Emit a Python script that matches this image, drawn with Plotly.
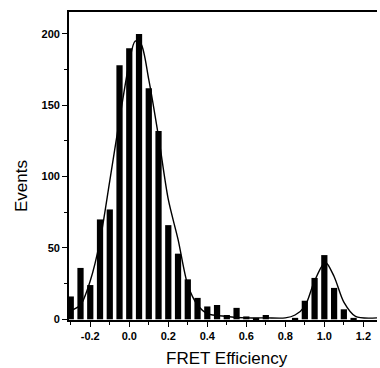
import plotly.graph_objects as go

# Histogram bins (FRET efficiency bin centres) and event counts
bin_centers = [-0.30, -0.25, -0.20, -0.15, -0.10, -0.05, 0.00, 0.05, 0.10, 0.15,
               0.20, 0.25, 0.30, 0.35, 0.40, 0.45, 0.50, 0.55, 0.60, 0.65,
               0.70, 0.75, 0.80, 0.85, 0.90, 0.95, 1.00, 1.05, 1.10, 1.15]
counts = [16, 36, 24, 70, 77, 178, 190, 200, 162, 132,
          66, 46, 28, 15, 9, 10, 3, 8, 2, 1,
          3, 0, 0, 1, 13, 29, 45, 22, 7, 1]

# Fit curve
fit_x = [-0.30, -0.25, -0.20, -0.15, -0.10, -0.05, 0.00, 0.03, 0.06, 0.10,
         0.15, 0.20, 0.25, 0.30, 0.35, 0.40, 0.50, 0.60, 0.70, 0.80,
         0.85, 0.90, 0.95, 1.005, 1.05, 1.10, 1.16, 1.27]
fit_y = [6, 10, 27, 55, 97, 140, 180, 195, 193, 168,
         128, 84, 56, 24, 10, 4, 2, 1, 1, 1,
         3, 9, 27, 40, 30, 12, 2, 1]

x_tickvals = [-0.2, 0.0, 0.2, 0.4, 0.6, 0.8, 1.0, 1.2]
x_ticktext = ["-0.2", "0.0", "0.2", "0.4", "0.6", "0.8", "1.0", "1.2"]
y_tickvals = [0, 50, 100, 150, 200]

fig = go.Figure()
fig.add_trace(go.Bar(x=bin_centers, y=counts, width=0.032,
                     marker=dict(color="black", line=dict(width=0))))
fig.add_trace(go.Scatter(x=fit_x, y=fit_y, mode="lines",
                         line=dict(color="black", width=1.4, shape="spline", smoothing=0.8)))

tickfont = dict(family="Liberation Sans", size=11, color="black", weight="bold")

fig.update_layout(
    width=380, height=368,
    margin=dict(l=69, r=3, t=12, b=48),
    paper_bgcolor="white", plot_bgcolor="white",
    showlegend=False,
    xaxis=dict(range=[-0.309, 1.27], tickvals=x_tickvals, ticktext=x_ticktext,
               ticks="outside", ticklen=5, tickwidth=1.3, tickcolor="black",
               minor=dict(tickvals=[-0.3, -0.1, 0.1, 0.3, 0.5, 0.7, 0.9, 1.1],
                          ticks="outside", ticklen=3, tickwidth=1, tickcolor="black"),
               showline=True, linecolor="black", linewidth=1.5, mirror=True,
               showgrid=False, zeroline=False, tickfont=tickfont),
    yaxis=dict(range=[-0.5, 215.4], tickvals=y_tickvals,
               ticks="outside", ticklen=5, tickwidth=1.3, tickcolor="black",
               minor=dict(tickvals=[25, 75, 125, 175],
                          ticks="outside", ticklen=3, tickwidth=1, tickcolor="black"),
               showline=True, linecolor="black", linewidth=1.8,
               showgrid=False, zeroline=False, tickfont=tickfont),
    annotations=[
        dict(text="FRET Efficiency", xref="paper", yref="paper", x=0.513, y=0,
             yshift=-38, xanchor="center", yanchor="middle", showarrow=False,
             font=dict(family="Liberation Sans", size=17, color="black")),
        dict(text="Events", xref="paper", yref="paper", x=-0.156, y=0.435,
             xanchor="center", yanchor="middle", textangle=-90, showarrow=False,
             font=dict(family="Liberation Sans", size=17, color="black")),
    ],
)

fig.write_html("out.html")
